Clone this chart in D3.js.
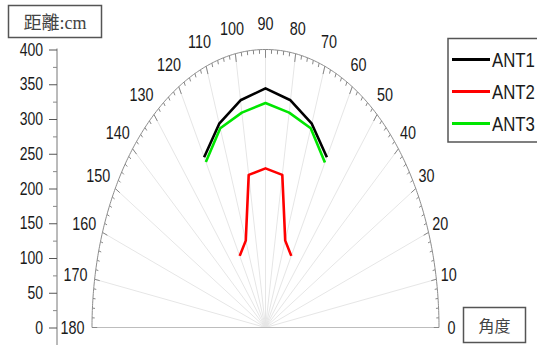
<!DOCTYPE html>
<html>
<head>
<meta charset="utf-8">
<script src="https://cdn.jsdelivr.net/npm/d3@7"></script>
<style>
  html, body { margin: 0; padding: 0; background: #fff; }
  svg { display: block; }
  .num { font-family: "Liberation Sans", Arial, sans-serif; fill: #1a1a1a; }
</style>
</head>
<body>
<svg id="chart" width="537" height="345"></svg>
<script>
// Measured angles (degrees) and distances (cm) for the three antennas
const angles = [60, 70, 80, 90, 100, 110, 120];
const ant1 = [283, 312, 332, 344, 332, 312, 283];
const ant2 = [119, 133, 223, 229, 223, 133, 119];
const ant3 = [274, 305, 314, 323, 314, 305, 275];
const seriesNames = ["ANT1", "ANT2", "ANT3"];
const seriesColors = ["#000000", "#ff0000", "#00e600"];
const radialTicks = [0, 50, 100, 150, 200, 250, 300, 350, 400];
const angleTicks = d3.range(0, 181, 10);

const svg = d3.select("#chart");
const squeeze = 0.8; // condensed look for the numeric labels

// Polar frame: the plot is stretched vertically, so x and y use separate radius scales
const cx = 265.5, cy = 327.5;
const rx = d3.scaleLinear().domain([0, 400]).range([0, 173.5]);
const ry = d3.scaleLinear().domain([0, 400]).range([0, 278]);
const rad = d => d * Math.PI / 180;
const px = (a, r) => cx + rx(r) * Math.cos(rad(a));
const py = (a, r) => cy - ry(r) * Math.sin(rad(a));

// Spokes every 10 degrees
svg.append("g").selectAll("line")
  .data(angleTicks.filter(a => a > 0 && a < 180))
  .join("line")
  .attr("x1", cx).attr("y1", cy)
  .attr("x2", a => px(a, 400)).attr("y2", a => py(a, 400))
  .attr("stroke", "#e6e6e6").attr("stroke-width", 1);

// Baseline from 0 to 180 degrees
svg.append("line")
  .attr("x1", px(180, 400)).attr("y1", cy)
  .attr("x2", px(0, 400)).attr("y2", cy)
  .attr("stroke", "#bdbdbd").attr("stroke-width", 1.2);

// Outer arc
const arcLine = d3.line().x(a => px(a, 400)).y(a => py(a, 400));
svg.append("path")
  .attr("d", arcLine(d3.range(0, 180.5, 0.5)))
  .attr("fill", "none").attr("stroke", "#8c8c8c").attr("stroke-width", 1);

// Arc ticks: majors every 10 degrees, minors every 2
svg.append("g").selectAll("line")
  .data(d3.range(0, 181, 2))
  .join("line")
  .attr("x1", a => px(a, 400)).attr("y1", a => py(a, 400))
  .attr("x2", a => px(a, a % 10 === 0 ? 388 : 394)).attr("y2", a => py(a, a % 10 === 0 ? 388 : 394))
  .attr("stroke", "#888").attr("stroke-width", 1);

// Angle labels
svg.append("g").selectAll("text")
  .data(angleTicks)
  .join("text")
  .attr("class", "num")
  .attr("transform", a => {
    const c = Math.cos(rad(a));
    const x = cx + c * (186 + (c < -0.01 ? 7 : 0));
    const y = cy - 304 * Math.sin(rad(a));
    return `translate(${x},${y}) scale(${squeeze},1)`;
  })
  .attr("text-anchor", "middle")
  .attr("dominant-baseline", "central")
  .attr("font-size", 18)
  .text(a => a);

// Left radial axis
const yScale = d3.scaleLinear().domain([0, 400]).range([cy, cy - ry(400)]);
const axisX = 57;
svg.append("line")
  .attr("x1", axisX).attr("y1", yScale(400) - 1)
  .attr("x2", axisX).attr("y2", 345)
  .attr("stroke", "#777").attr("stroke-width", 1);
const minorAxis = svg.append("g").attr("transform", `translate(${axisX},0)`)
  .call(d3.axisLeft(yScale).tickValues(d3.range(25, 400, 50)).tickSize(4).tickFormat(""));
minorAxis.select(".domain").remove();
minorAxis.selectAll("line").attr("stroke", "#888");
const majorAxis = svg.append("g").attr("transform", `translate(${axisX},0)`)
  .call(d3.axisLeft(yScale).tickValues(radialTicks).tickSize(8).tickPadding(6));
majorAxis.select(".domain").remove();
majorAxis.selectAll("line").attr("stroke", "#555");
majorAxis.selectAll("text")
  .attr("class", "num")
  .attr("x", -14 / squeeze)
  .attr("transform", `scale(${squeeze},1)`)
  .attr("font-size", 17.5)
  .attr("fill", "#1a1a1a");

// Data curves
const curve = d3.line()
  .x((r, i) => px(angles[i], r))
  .y((r, i) => py(angles[i], r));
[ant1, ant2, ant3].forEach((vals, i) => {
  svg.append("path")
    .attr("d", curve(vals))
    .attr("fill", "none")
    .attr("stroke", seriesColors[i])
    .attr("stroke-width", 2.6)
    .attr("stroke-linejoin", "round");
});

// Legend
const lg = svg.append("g");
lg.append("rect")
  .attr("x", 448).attr("y", 38.5).attr("width", 100).attr("height", 103.5)
  .attr("fill", "#fff").attr("stroke", "#555").attr("stroke-width", 1.5);
seriesNames.forEach((name, i) => {
  const y = 59.5 + i * 32;
  lg.append("line")
    .attr("x1", 452).attr("x2", 490).attr("y1", y).attr("y2", y)
    .attr("stroke", seriesColors[i]).attr("stroke-width", 3);
  lg.append("text")
    .attr("class", "num")
    .attr("transform", `translate(492,${y}) scale(${squeeze},1)`)
    .attr("dominant-baseline", "central")
    .attr("font-size", 21)
    .text(name);
});

// Axis title boxes
svg.append("rect")
  .attr("x", 8.5).attr("y", 5.5).attr("width", 93).attr("height", 32)
  .attr("fill", "#fff").attr("stroke", "#555").attr("stroke-width", 1.5);
svg.append("text")
  .attr("x", 55).attr("y", 22.5)
  .attr("text-anchor", "middle").attr("dominant-baseline", "central")
  .attr("font-family", "'Liberation Serif', 'Noto Sans CJK TC', serif")
  .attr("font-size", 18).attr("fill", "#444")
  .text("距離:cm");

svg.append("rect")
  .attr("x", 463.5).attr("y", 307.5).attr("width", 62).attr("height", 35)
  .attr("fill", "#fff").attr("stroke", "#555").attr("stroke-width", 1.5);
svg.append("text")
  .attr("x", 494.5).attr("y", 325)
  .attr("text-anchor", "middle").attr("dominant-baseline", "central")
  .attr("font-family", "'Noto Sans CJK TC', sans-serif")
  .attr("font-size", 16).attr("fill", "#444")
  .text("角度");
</script>
</body>
</html>
